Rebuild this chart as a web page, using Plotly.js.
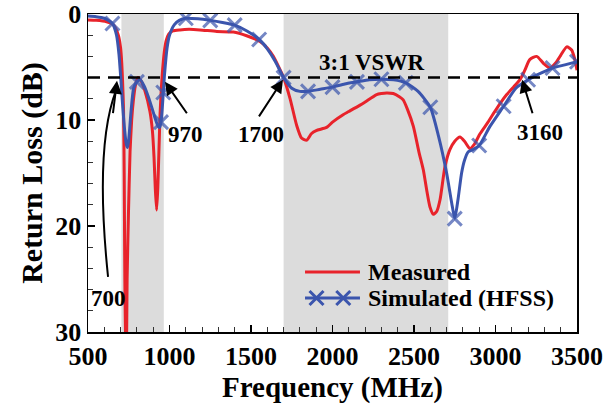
<!DOCTYPE html>
<html>
<head>
<meta charset="utf-8">
<script src="https://cdn.plot.ly/plotly-3.0.1.min.js"></script>
<style>html,body{margin:0;padding:0;background:#fff;}#chart{width:605px;height:408px;}</style>
</head>
<body>
<div id="chart"></div>
<script>
// Measured return loss (dB) vs frequency (MHz)
const measFreq = [500, 550, 614, 655, 686, 700, 707, 712, 718, 722, 726, 734, 740, 748, 758, 768, 778, 790, 805, 825, 850, 880, 895, 905, 913, 921, 928, 935, 942, 950, 958, 968, 980, 995, 1020, 1064, 1120, 1187, 1290, 1392, 1473, 1555, 1600, 1637, 1670, 1700, 1740, 1780, 1810, 1842, 1870, 1900, 1964, 2000, 2065, 2100, 2169, 2200, 2271, 2300, 2332, 2373, 2410, 2434, 2460, 2496, 2530, 2557, 2580, 2598, 2619, 2640, 2660, 2690, 2720, 2750, 2782, 2810, 2843, 2870, 2905, 2950, 2987, 3030, 3069, 3110, 3150, 3180, 3210, 3253, 3294, 3334, 3370, 3400, 3437, 3467, 3485, 3500];
const measDb   = [0.57, 0.6, 0.73, 1.0, 2.0, 3.2, 4.6, 6.3, 9.0, 15, 25, 35, 25, 19, 13, 10, 8.2, 6.8, 6.0, 6.3, 7.3, 9.2, 11, 13.5, 16.5, 18.5, 16.5, 13, 9.5, 7.0, 5.2, 3.6, 2.5, 1.9, 1.6, 1.5, 1.45, 1.5, 1.65, 1.7, 2.05, 2.6, 3.2, 4.0, 5.0, 6.0, 8.0, 10.5, 11.7, 11.9, 11.3, 11.0, 10.7, 10.2, 9.5, 9.2, 8.6, 8.3, 7.6, 7.5, 7.45, 7.5, 7.8, 8.1, 9.0, 10.6, 13.0, 14.7, 16.8, 18.2, 18.9, 18.6, 17.5, 14.4, 12.8, 12.0, 11.6, 12.0, 12.7, 12.3, 11.3, 10.3, 9.4, 8.4, 7.6, 6.9, 6.2, 5.3, 4.3, 4.0, 4.65, 5.1, 4.6, 3.9, 3.1, 3.4, 4.2, 5.3];

// Simulated (HFSS) return loss (dB) vs frequency (MHz)
const simFreq = [500, 550, 600, 650, 675, 690, 700, 712, 725, 735, 743, 752, 765, 780, 800, 820, 845, 870, 895, 915, 930, 940, 948, 955, 962, 970, 985, 1000, 1030, 1060, 1100, 1175, 1250, 1325, 1400, 1475, 1550, 1600, 1650, 1700, 1750, 1800, 1850, 1925, 2000, 2075, 2150, 2225, 2300, 2375, 2450, 2525, 2600, 2650, 2700, 2731, 2750, 2770, 2792, 2810, 2833, 2860, 2900, 2966, 3050, 3125, 3200, 3275, 3350, 3425, 3500];
const simDb   = [0.2, 0.25, 0.4, 0.9, 2.0, 3.8, 5.8, 8.5, 11.0, 12.3, 12.6, 11.5, 9.0, 7.0, 6.4, 6.2, 6.8, 7.8, 9.0, 10.0, 10.6, 10.7, 10.2, 9.0, 7.4, 5.6, 3.2, 2.0, 1.0, 0.6, 0.4, 0.45, 0.6, 0.8, 1.05, 1.6, 2.4, 3.3, 4.5, 6.0, 7.0, 7.3, 7.3, 7.1, 6.9, 6.6, 6.4, 6.2, 6.15, 6.2, 6.5, 7.3, 8.8, 11.5, 15.0, 17.8, 19.3, 17.5, 15.0, 13.8, 13.0, 12.8, 12.4, 10.6, 8.7, 7.0, 6.2, 5.6, 5.1, 4.8, 4.5];
// Frequencies where the simulated curve carries an X marker
const simMarkerFreq = [650, 800, 948, 962, 1100, 1250, 1400, 1550, 1700, 1850, 2000, 2150, 2300, 2450, 2600, 2750, 2900, 3050, 3200, 3350, 3500];

// Bands and level
const bands = [[705, 965], [1700, 2710]];
const vswrLevel = 6;

// Annotated crossing frequencies: [label, labelX, labelY, tailX, tailY, headX, headY]
const crossLabels = [
  ['970', 1101, 11.4, 1113, 9.5, 972, 6.4],
  ['1700', 1561, 11.4, 1543, 9.8, 1696, 6.2],
  ['3160', 3273, 11.2, 3230, 9.5, 3163, 6.2]
];
const xTicks = [500, 1000, 1500, 2000, 2500, 3000, 3500];
const yTicks = [0, 10, 20, 30];
const seriesNames = ['Measured', 'Simulated (HFSS)'];

const FONT = 'Liberation Serif, Times New Roman, serif';
const RED = '#e8232b';
const BLUE = '#3b55ad';

const simSizes = simFreq.map(f => simMarkerFreq.includes(f) ? 14 : 0);

const traces = [
  {
    x: measFreq, y: measDb, type: 'scatter', mode: 'lines', name: seriesNames[0], showlegend: false,
    line: {color: RED, width: 3, shape: 'spline', smoothing: 0.6}
  },
  {
    x: simFreq, y: simDb, type: 'scatter', mode: 'lines+markers', name: seriesNames[1], showlegend: false,
    line: {color: BLUE, width: 3, shape: 'spline', smoothing: 0.6},
    marker: {symbol: 'x-thin', size: simSizes, color: BLUE, line: {color: BLUE, width: 3}}
  }
];

const shapes = bands.map(b => ({
  type: 'rect', xref: 'x', yref: 'paper', x0: b[0], x1: b[1], y0: 0, y1: 1,
  fillcolor: '#dcdcdc', line: {width: 0}, layer: 'below'
}));
shapes.push({
  type: 'line', xref: 'x', yref: 'y', x0: 500, x1: 3500, y0: vswrLevel, y1: vswrLevel,
  line: {color: 'black', width: 2.5, dash: '12px,8px'}, layer: 'above'
});
// curved arrow body for 700
shapes.push({
  type: 'path', xref: 'x', yref: 'y', path: 'M 623,24.8 Q 540,12.5 672,7.2',
  line: {color: 'black', width: 2}, layer: 'above'
});

// Legend (drawn by hand to match the original key)
const legX0 = 0.4438, legX1 = 0.5562, legTextX = 0.568;
const legY = [0.1887, 0.1069];
shapes.push({type: 'line', xref: 'paper', yref: 'paper', x0: legX0, x1: legX1, y0: legY[0], y1: legY[0],
  line: {color: RED, width: 3}});
shapes.push({type: 'line', xref: 'paper', yref: 'paper', x0: legX0, x1: legX1, y0: legY[1], y1: legY[1],
  line: {color: BLUE, width: 3}});
[0.4673, 0.5220].forEach(mx => {
  shapes.push({type: 'path', xref: 'paper', yref: 'paper', xsizemode: 'pixel', ysizemode: 'pixel',
    xanchor: mx, yanchor: legY[1], path: 'M -7,-7 L 7,7 M -7,7 L 7,-7',
    line: {color: BLUE, width: 3}});
});

const annFont = {family: FONT, size: 23, color: 'black', weight: 'bold'};
const legFont = {family: FONT, size: 24, color: 'black', weight: 'bold'};
const annotations = [
  {x: 2242, y: 4.6, xref: 'x', yref: 'y', text: '3:1 VSWR', showarrow: false, font: annFont},
  {x: 623, y: 26.8, xref: 'x', yref: 'y', text: '700', showarrow: false, font: annFont},
  {x: 678, y: 6.3, ax: 652, ay: 9.5, xref: 'x', yref: 'y', axref: 'x', ayref: 'y', text: '',
   showarrow: true, arrowhead: 2, arrowsize: 1.3, arrowwidth: 2, arrowcolor: 'black', standoff: 0},
  {x: legTextX, y: legY[0], xref: 'paper', yref: 'paper', xanchor: 'left', yanchor: 'middle',
   text: seriesNames[0], showarrow: false, font: legFont},
  {x: legTextX, y: legY[1], xref: 'paper', yref: 'paper', xanchor: 'left', yanchor: 'middle',
   text: seriesNames[1], showarrow: false, font: legFont}
];
crossLabels.forEach(c => {
  annotations.push({x: c[1], y: c[2], xref: 'x', yref: 'y', text: c[0], showarrow: false, font: annFont});
  annotations.push({x: c[5], y: c[6], ax: c[3], ay: c[4], xref: 'x', yref: 'y', axref: 'x', ayref: 'y',
    text: '', showarrow: true, arrowhead: 2, arrowsize: 1.3, arrowwidth: 2, arrowcolor: 'black', standoff: 0});
});

const layout = {
  width: 605, height: 408,
  margin: {l: 88, r: 28, t: 14, b: 76},
  paper_bgcolor: 'white', plot_bgcolor: 'white',
  font: {family: FONT, color: 'black'},
  showlegend: false,
  xaxis: {
    range: [500, 3500], tickvals: xTicks, ticktext: xTicks.map(String),
    ticks: 'inside', ticklen: 7, tickwidth: 1.2, tickcolor: 'black',
    minor: {dtick: 100, ticks: 'inside', ticklen: 5, tickwidth: 1, tickcolor: '#333', showgrid: false},
    showline: true, linecolor: 'black', linewidth: 1.5, mirror: true,
    showgrid: false, zeroline: false,
    tickfont: {family: FONT, size: 26, color: 'black', weight: 'bold'},
    title: {text: 'Frequency (MHz)', font: {family: FONT, size: 29, color: 'black', weight: 'bold'}, standoff: 5}
  },
  yaxis: {
    range: [30, 0], tickvals: yTicks, ticktext: yTicks.map(String),
    ticks: 'inside', ticklen: 7, tickwidth: 1.2, tickcolor: 'black',
    minor: {dtick: 2, ticks: 'inside', ticklen: 5, tickwidth: 1, tickcolor: '#333', showgrid: false},
    showline: true, linecolor: 'black', linewidth: 1.5, mirror: true,
    showgrid: false, zeroline: false,
    tickfont: {family: FONT, size: 26, color: 'black', weight: 'bold'},
    title: {text: 'Return Loss (dB)', font: {family: FONT, size: 30, color: 'black', weight: 'bold'}, standoff: 4}
  },
  shapes: shapes,
  annotations: annotations
};

Plotly.newPlot('chart', traces, layout, {displayModeBar: false, staticPlot: true});
</script>
</body>
</html>
